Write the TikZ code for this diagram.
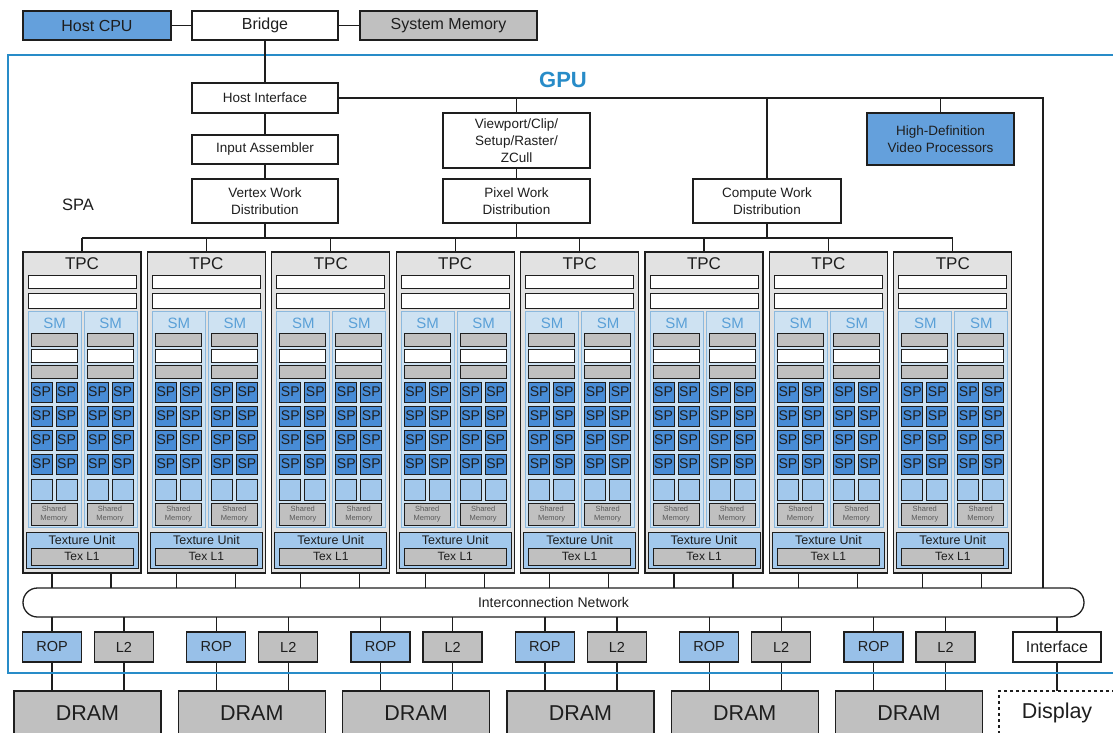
\documentclass[tikz,border=0pt]{standalone}
\usepackage{fontspec}
\setmainfont{Liberation Sans}
\definecolor{cpublue}{RGB}{100,160,220}
\definecolor{ropblue}{RGB}{152,192,232}
\definecolor{gbox}{RGB}{192,192,192}
\definecolor{gpublue}{RGB}{40,140,200}
\definecolor{tpcgray}{RGB}{226,226,226}
\definecolor{smfill}{RGB}{206,226,242}
\definecolor{smline}{RGB}{140,185,222}
\definecolor{spblue}{RGB}{72,140,214}
\definecolor{lblue}{RGB}{162,200,236}
\definecolor{smtext}{RGB}{90,160,215}
\definecolor{ink}{RGB}{30,30,30}
\newcommand{\bx}[7]{\node[#6,minimum width={((#4)-(#2))*1pt},minimum height={((#5)-(#3))*1pt}] (#1) at ({((#2)+(#4))/2},{((#3)+(#5))/2}) {#7};}
\tikzset{
  box/.style={draw=ink,line width=1.3pt,inner sep=0pt,outer sep=0pt,align=center,text=ink,font=\fontsize{13.5}{17}\selectfont},
  topbox/.style={box,font=\fontsize{16}{18}\selectfont},
  cell/.style={draw=ink,line width=0.9pt,inner sep=0pt,outer sep=0pt,align=center,text=ink},
  spcell/.style={cell,fill=spblue,font=\fontsize{14}{14}\selectfont},
  smpanel/.style={draw=smline,fill=smfill,line width=1pt,inner sep=0pt,outer sep=0pt},
  smlab/.style={text=smtext,font=\fontsize{15}{16}\selectfont,inner sep=0pt},
  wire/.style={draw=ink,line width=1.3pt},
  membox/.style={box,fill=gbox,font=\fontsize{14.5}{16}\selectfont},
  dram/.style={box,fill=gbox,font=\fontsize{21.5}{24}\selectfont},
}
\begin{document}
\begin{tikzpicture}[x=1pt,y=-1pt]
\useasboundingbox (0,0) rectangle (1113,733);
\clip (0,0) rectangle (1113,733);
\fill[white] (0,0) rectangle (1113,733);

% GPU frame
\draw[gpublue,line width=2pt] (1130,55) -- (8,55) -- (8,673) -- (1130,673);
\node[text=gpublue,font=\bfseries\fontsize{22}{24}\selectfont,inner sep=0pt] (gpu) at (563,80) {GPU};
\node[text=ink,font=\fontsize{16.5}{18}\selectfont,inner sep=0pt] (spa) at (78,205) {SPA};

% top row
\bx{cpu}{23}{11}{171}{40}{topbox,fill=cpublue}{Host CPU}
\bx{bridge}{192}{11}{338}{40}{topbox,fill=white}{Bridge}
\bx{sysmem}{360}{11}{537}{40}{topbox,fill=gbox}{System Memory}
\draw[wire] (cpu) -- (bridge);
\draw[wire] (bridge) -- (sysmem);

% front end
\bx{hif}{192}{83}{338}{113}{box,fill=white}{Host Interface}
\bx{ia}{192}{135}{338}{164}{box,fill=white}{Input Assembler}
\bx{vwd}{192}{179}{338}{223}{box,fill=white}{Vertex Work\\Distribution}
\bx{vp}{443}{113}{590}{168}{box,fill=white}{Viewport/Clip/\\Setup/Raster/\\ZCull}
\bx{pwd}{443}{179}{590}{223}{box,fill=white}{Pixel Work\\Distribution}
\bx{cwd}{693}{179}{841}{223}{box,fill=white}{Compute Work\\Distribution}
\bx{hd}{867}{113}{1014}{165}{box,fill=cpublue}{High-Definition\\Video Processors}

\draw[wire] (bridge) -- (hif);
\draw[wire] (hif) -- (ia);
\draw[wire] (ia) -- (vwd);
\draw[wire] (vp) -- (pwd);

\coordinate (hr) at (1043,0);
\coordinate (bus) at (0,238);

% interconnect
\node[draw=ink,line width=1.3pt,fill=white,rounded corners=14.5pt,minimum width=1061pt,minimum height=29pt,inner sep=0pt,outer sep=0pt,font=\fontsize{14}{16}\selectfont,text=ink] (icn) at (553.5,602.5) {Interconnection Network};

\draw[wire] (hif.east) -| (hr |- icn.north);
\draw[wire] (vp.north) -- (vp.north |- hif.east);
\draw[wire] (cwd.north) -- (cwd.north |- hif.east);
\draw[wire] (hd.north) -- (hd.north |- hif.east);
\draw[wire] (vwd.south) -- (vwd.south |- bus);
\draw[wire] (pwd.south) -- (pwd.south |- bus);
\draw[wire] (cwd.south) -- (cwd.south |- bus);

% TPCs
\foreach \i in {0,...,7}{
  \pgfmathsetmacro\L{23+124.4*\i}
  \bx{tpc\i}{\L}{252}{\L+118}{573}{box,fill=tpcgray}{}
  \node[text=ink,font=\fontsize{17}{18}\selectfont,inner sep=0pt] (tpct\i) at (\L+59,264) {TPC};
  \bx{tba\i}{\L+5}{275}{\L+113}{288}{cell,fill=white}{}
  \bx{tbb\i}{\L+5}{293}{\L+113}{308}{cell,fill=white}{}
  \foreach \s in {0,1}{
    \pgfmathsetmacro\M{\L+56*\s}
    \bx{sm\i-\s}{\M+5}{311}{\M+58}{527}{smpanel}{}
    \node[smlab] (smt\i-\s) at (\M+31.5,323) {SM};
    \bx{ga\i-\s}{\M+8}{333}{\M+54}{346}{cell,fill=gbox}{}
    \bx{wb\i-\s}{\M+8}{349}{\M+54}{362}{cell,fill=white}{}
    \bx{gb\i-\s}{\M+8}{365}{\M+54}{378}{cell,fill=gbox}{}
    \foreach \c in {0,1}{
      \pgfmathsetmacro\C{\M+8+25*\c}
      \foreach \r in {0,...,3}{
        \pgfmathsetmacro\Y{382+24*\r}
        \bx{sp\i-\s-\r-\c}{\C}{\Y}{\C+21}{\Y+20}{spcell}{SP}
      }
      \bx{lq\i-\s-\c}{\C}{479}{\C+21}{500}{cell,fill=lblue}{}
    }
    \bx{shm\i-\s}{\M+8}{503}{\M+54}{525}{cell,fill=gbox,text=black!65,font=\fontsize{7.5}{8.5}\selectfont}{Shared\\Memory}
  }
  \bx{tu\i}{\L+3}{532}{\L+115}{568}{cell,fill=lblue}{}
  \node[text=ink,font=\fontsize{12.5}{13}\selectfont,inner sep=0pt] (tut\i) at (\L+59,540.5) {Texture Unit};
  \bx{tl\i}{\L+8}{548}{\L+110}{565}{cell,fill=gbox,font=\fontsize{12}{13}\selectfont}{Tex L1}
  \draw[wire] (tpc\i.north) -- (tpc\i.north |- bus);
  \draw[wire] ([xshift=-30pt]tpc\i.south) -- ([xshift=-30pt]tpc\i.south |- icn.north);
  \draw[wire] ([xshift=29pt]tpc\i.south) -- ([xshift=29pt]tpc\i.south |- icn.north);
}
\draw[wire] (tpc0.north |- bus) -- (tpc7.north |- bus);

% ROP / L2 / DRAM
\foreach \j in {0,...,5}{
  \pgfmathsetmacro\R{22.5+164.3*\j}
  \pgfmathsetmacro\D{14+164.3*\j}
  \bx{rop\j}{\R}{632}{\R+59}{662}{membox,fill=ropblue}{ROP}
  \bx{ltwo\j}{\R+72}{632}{\R+131}{662}{membox}{L2}
  \bx{dram\j}{\D}{691}{\D+147}{750}{dram}{}
  \node[text=ink,font=\fontsize{21.5}{24}\selectfont,inner sep=0pt] (dramt\j) at (\D+73.5,713) {DRAM};
  \draw[wire] (rop\j.north |- icn.south) -- (rop\j.north);
  \draw[wire] (ltwo\j.north |- icn.south) -- (ltwo\j.north);
  \draw[wire] (rop\j.south) -- (rop\j.south |- dram\j.north);
  \draw[wire] (ltwo\j.south) -- (ltwo\j.south |- dram\j.north);
}
\bx{iface}{1013}{632}{1101}{662}{box,fill=white,font=\fontsize{16}{18}\selectfont}{Interface}
\node[draw=ink,dashed,line width=1.3pt,fill=white,minimum width=130pt,minimum height=60pt,inner sep=0pt,outer sep=0pt] (disp) at (1064,721) {};
\node[text=ink,font=\fontsize{21.5}{24}\selectfont,inner sep=0pt] (dispt) at (1057,713) {Display};
\draw[wire] (iface.north |- icn.south) -- (iface.north);
\draw[wire] (iface.south) -- (iface.south |- disp.north);

% GPU bottom edge on top
\draw[gpublue,line width=2pt] (8,673) -- (1130,673);
\end{tikzpicture}
\end{document}
